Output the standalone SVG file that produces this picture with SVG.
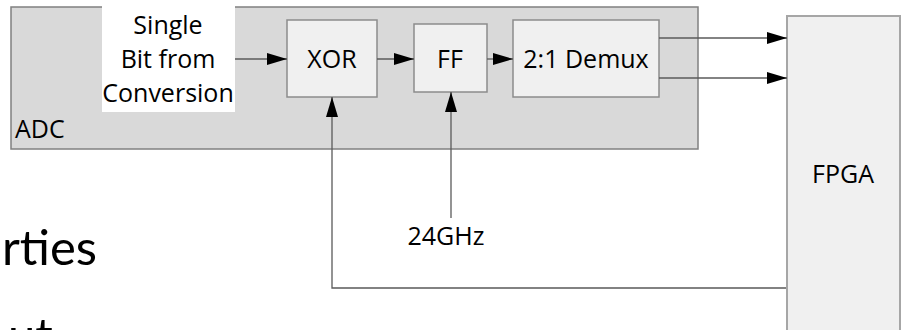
<svg xmlns="http://www.w3.org/2000/svg" width="903" height="330" viewBox="0 0 903 330">
<style>
text{font-family:"Open Sans","Liberation Sans",sans-serif;font-size:25px;fill:#000}
.c{text-anchor:middle}
.blk{fill:#f0f0f0;stroke:#8c8c8c;stroke-width:1.5}
.ln{fill:none;stroke:#5a5a5a;stroke-width:1.3}
.big{font-family:Lato,"Open Sans",sans-serif;font-size:49px}
</style>
<defs>
<marker id="ah" markerUnits="userSpaceOnUse" markerWidth="20" markerHeight="12" refX="20" refY="6" orient="auto">
<path d="M0,0 L20,6 L0,12 Z" fill="#000"/>
</marker>
</defs>
<g id="adc">
<rect x="11" y="7" width="687" height="142" fill="#d9d9d9" stroke="#808080" stroke-width="1.5"/>
<text x="15" y="138">ADC</text>
</g>
<g id="source">
<rect x="102" y="6" width="133" height="106" fill="#fff"/>
<text class="c" x="168" y="34">Single</text>
<text class="c" x="168" y="68">Bit from</text>
<text class="c" x="168" y="102">Conversion</text>
</g>
<g id="xor">
<rect class="blk" x="287" y="20" width="90" height="77"/>
<text class="c" x="332" y="68">XOR</text>
</g>
<g id="ff">
<rect class="blk" x="414" y="24" width="73" height="68"/>
<text class="c" x="450" y="68">FF</text>
</g>
<g id="demux">
<rect class="blk" x="513" y="20" width="146" height="77"/>
<text class="c" x="586" y="68">2:1 Demux</text>
</g>
<g id="fpga">
<rect x="787" y="16" width="113" height="330" fill="#f0f0f0" stroke="#a6a6a6" stroke-width="2"/>
<text class="c" x="843" y="183">FPGA</text>
</g>
<g id="clock">
<text class="c" x="446" y="245">24GHz</text>
</g>
<g id="connectors">
<line class="ln" x1="235" y1="59" x2="287" y2="59" marker-end="url(#ah)"/>
<line class="ln" x1="377" y1="59" x2="414" y2="59" marker-end="url(#ah)"/>
<line class="ln" x1="487" y1="59" x2="513" y2="59" marker-end="url(#ah)"/>
<line class="ln" x1="659" y1="38" x2="787" y2="38" marker-end="url(#ah)"/>
<line class="ln" x1="659" y1="78" x2="787" y2="78" marker-end="url(#ah)"/>
<line class="ln" x1="451" y1="218" x2="451" y2="92" marker-end="url(#ah)"/>
<polyline class="ln" points="786,288 332,288 332,97" marker-end="url(#ah)"/>
</g>
<g id="background-text">
<text class="big" x="97" y="265" text-anchor="end">rties</text>
<text class="big" x="8" y="353">ut</text>
</g>
</svg>
